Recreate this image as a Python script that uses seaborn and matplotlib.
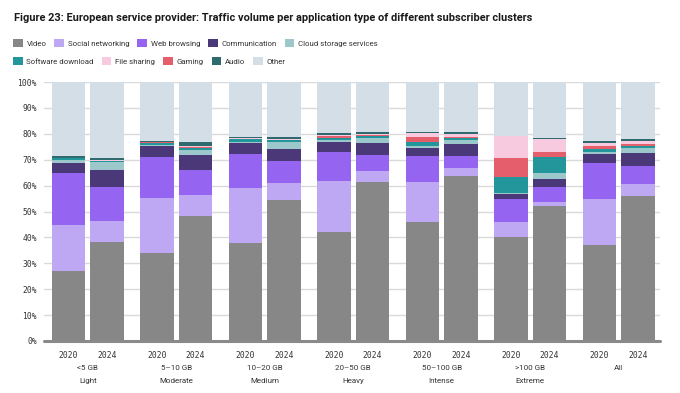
import matplotlib.pyplot as plt
import pandas as pd
import seaborn as sns
from matplotlib.patches import Patch
from matplotlib.transforms import blended_transform_factory

# subscriber clusters (x axis groups)
cluster_sizes = ["<5 GB", "5–10 GB", "10–20 GB", "20–50 GB", "50–100 GB", ">100 GB", "All"]
cluster_names = ["Light", "Moderate", "Medium", "Heavy", "Intense", "Extreme", ""]
years = ["2020", "2024"]

# share of traffic (%) per bar: cluster by cluster, 2020 then 2024
video = [27.2, 38.2, 33.9, 48.4, 38.0, 54.6, 42.0, 61.5, 45.8, 63.8, 40.2, 52.1, 37.1, 56.0]
social_networking = [17.5, 8.3, 21.2, 8.0, 21.2, 6.5, 19.8, 4.3, 15.6, 2.9, 5.9, 1.4, 17.7, 4.6]
web_browsing = [20.0, 13.0, 15.9, 9.5, 13.0, 8.3, 11.3, 5.9, 9.9, 4.6, 8.7, 6.0, 13.9, 7.1]
communication = [4.2, 6.5, 4.3, 5.8, 4.1, 4.7, 3.9, 4.9, 3.3, 4.6, 1.8, 3.0, 3.4, 4.8]
cloud_storage = [1.1, 3.0, 0.5, 2.0, 0.6, 2.6, 0.5, 1.7, 0.6, 1.7, 0.5, 2.2, 0.8, 1.9]
software_download = [0.5, 0.5, 0.8, 0.9, 1.0, 0.8, 0.8, 0.7, 1.5, 0.9, 6.3, 6.3, 1.4, 1.0]
gaming = [0.1, 0.1, 0.1, 0.4, 0.1, 0.2, 0.9, 0.4, 2.2, 0.4, 7.4, 2.0, 1.0, 0.7]
file_sharing = [0.1, 0.1, 0.2, 0.4, 0.2, 0.3, 0.3, 0.4, 1.4, 0.9, 8.3, 5.1, 1.2, 1.1]
audio = [0.7, 1.0, 0.4, 1.3, 0.7, 0.9, 0.7, 1.0, 0.5, 1.0, 0.1, 0.4, 0.6, 0.8]
other = [28.6, 29.3, 22.7, 23.3, 21.1, 21.1, 19.8, 19.2, 19.2, 19.2, 20.8, 21.5, 22.9, 22.0]

series = {
    "Video": video,
    "Social networking": social_networking,
    "Web browsing": web_browsing,
    "Communication": communication,
    "Cloud storage services": cloud_storage,
    "Software download": software_download,
    "Gaming": gaming,
    "File sharing": file_sharing,
    "Audio": audio,
    "Other": other,
}
colors = {
    "Video": "#878787",
    "Social networking": "#bfa8f3",
    "Web browsing": "#9565f1",
    "Communication": "#4b3879",
    "Cloud storage services": "#9cc7cb",
    "Software download": "#22969b",
    "File sharing": "#f7cadf",
    "Gaming": "#e45e6b",
    "Audio": "#2f6a6f",
    "Other": "#d3dee7",
}
legend_rows = [
    ["Video", "Social networking", "Web browsing", "Communication", "Cloud storage services"],
    ["Software download", "File sharing", "Gaming", "Audio", "Other"],
]

YEAR_STEP = 0.435
positions = [g + k * YEAR_STEP for g in range(len(cluster_sizes)) for k in range(len(years))]

df = pd.DataFrame(series)
stack_order = list(series.keys())
cumulative = df[stack_order].cumsum(axis=1)
cumulative["pos"] = positions

sns.set_theme(style="white")
plt.rcParams["font.family"] = ["Roboto", "DejaVu Sans"]

fig = plt.figure(figsize=(6.8, 3.93), dpi=100)
ax = fig.add_axes([44 / 680, 52 / 393, 616 / 680, 259 / 393])

# stacked bars: paint cumulative totals from the top layer down
for name in reversed(stack_order):
    sns.barplot(
        data=cumulative,
        x="pos",
        y=name,
        native_scale=True,
        color=colors[name],
        saturation=1,
        width=0.86,
        errorbar=None,
        linewidth=0,
        ax=ax,
    )

ax.set_xlim(-0.277, 6.684)
ax.set_ylim(0, 100)
ax.set_xlabel("")
ax.set_ylabel("")
for spine in ax.spines.values():
    spine.set_visible(False)
ax.set_yticks(range(0, 101, 10), labels=[f"{v}%" for v in range(0, 101, 10)])
ax.yaxis.grid(True, color="#dadada", linewidth=1.0)
ax.set_axisbelow(True)
ax.axhline(0, color="#8a8a8a", linewidth=2.2, clip_on=False, zorder=5)

ax.set_xticks(positions, labels=years * len(cluster_sizes))
ax.tick_params(axis="both", length=0, colors="#333333")
ax.tick_params(axis="y", pad=5)
ax.tick_params(axis="x", pad=7)
for label in ax.get_xticklabels() + ax.get_yticklabels():
    label.set_fontfamily("DejaVu Sans Mono")
    label.set_fontsize(5.8)

trans = blended_transform_factory(ax.transData, ax.transAxes)
for g, (size, name) in enumerate(zip(cluster_sizes, cluster_names)):
    center = g + YEAR_STEP / 2
    ax.text(center, -0.093, size, transform=trans, ha="center", va="top",
            fontsize=5.8, color="#333333")
    if name:
        ax.text(center, -0.141, name, transform=trans, ha="center", va="top",
                fontsize=5.8, color="#333333")

fig.text(14 / 680, 1 - 18 / 393,
         "Figure 23: European service provider: Traffic volume per application type "
         "of different subscriber clusters",
         ha="left", va="center", fontsize=7.9, fontweight="semibold", color="#1a1a1a")

for row, y_px in zip(legend_rows, [43, 61]):
    handles = [Patch(facecolor=colors[n], edgecolor="none", label=n) for n in row]
    leg = fig.legend(
        handles=handles,
        loc="center left",
        bbox_to_anchor=(13 / 680, 1 - y_px / 393),
        ncol=len(row),
        frameon=False,
        fontsize=5.7,
        handlelength=1.2,
        handleheight=1.2,
        handletextpad=0.5,
        columnspacing=1.0,
        borderpad=0,
        borderaxespad=0,
    )
    for text in leg.get_texts():
        text.set_color("#333333")

fig.savefig("out.png", dpi=100)
